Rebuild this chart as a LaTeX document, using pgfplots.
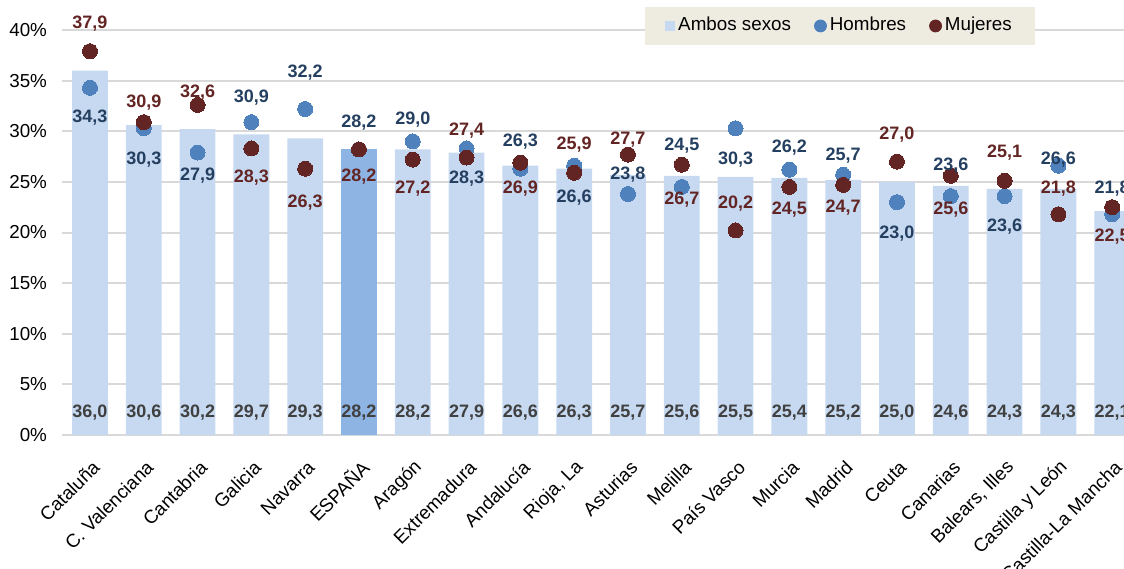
\documentclass[border=0pt]{standalone}
\usepackage{fontspec}
\setmainfont{Liberation Sans}
\usepackage{pgfplots}
\usepackage{pgfplotstable}
\pgfplotsset{compat=1.18}
\definecolor{barblue}{HTML}{C6D9F1}
\definecolor{spainblue}{HTML}{8DB4E2}
\definecolor{hdot}{HTML}{4F81BD}
\definecolor{mdot}{HTML}{632523}
\definecolor{hlab}{HTML}{243F60}
\definecolor{mlab}{HTML}{632523}
\definecolor{blab}{HTML}{404040}
\definecolor{legbg}{HTML}{EEECE1}
\definecolor{gridgray}{HTML}{D9D9D9}
\newcommand{\fs}[1]{\fontsize{#1}{#1}\selectfont}

\pgfplotstableread{
x  a    h    m    ho   mo
0  36.0 34.3 37.9 -30  28
1  30.6 30.3 30.9 -31  20
2  30.2 27.9 32.6 -23  12
3  29.7 30.9 28.3  25 -29
4  29.3 32.2 26.3  36 -34
5  28.2 28.2 28.2  27 -27
6  28.2 29.0 27.2  22 -29
7  27.9 28.3 27.4 -30  27
8  26.6 26.3 26.9  27 -26
9  26.3 26.6 25.9 -32  28
10 25.7 23.8 27.7  19  15
11 25.6 24.5 26.7  41 -35
12 25.5 30.3 20.2 -31  27
13 25.4 26.2 24.5  22 -23
14 25.2 25.7 24.7  19 -23
15 25.0 23.0 27.0 -31  27
16 24.6 23.6 25.6  30 -34
17 24.3 23.6 25.1 -31  28
18 24.3 26.6 21.8   6  26
19 22.1 21.8 22.5  26 -29
}\datatable

\begin{document}
\begin{tikzpicture}
\useasboundingbox (-31pt,-66.5pt) rectangle (531pt,217.5pt);
\begin{axis}[
  at={(0pt,0pt)}, anchor=south west,
  scale only axis, width=531pt, height=202.5pt,
  xmin=-0.52, xmax=19.22, ymin=0, ymax=40,
  clip=false,
  axis line style={draw=none},
  major tick length=0pt,
  ytick={0,5,...,40},
  yticklabel={\pgfmathprintnumber{\tick}\%},
  yticklabel style={font=\fs{9.4}, xshift=-4pt},
  ymajorgrids, grid style={draw=gridgray, line width=1pt},
  xtick={0,...,19},
  xticklabels={Cataluña, C. Valenciana, Cantabria, Galicia, Navarra, ESPAÑA, Aragón, Extremadura, Andalucía, {Rioja, La}, Asturias, Melilla, País Vasco, Murcia, Madrid, Ceuta, Canarias, {Balears, Illes}, Castilla y León, Castilla-La Mancha},
  xticklabel style={font=\fs{9.4}, rotate=45, anchor=east, inner sep=1pt, yshift=-12.5pt, xshift=-7pt},
  /pgf/number format/assume math mode=true,
  legend style={at={(0.7326,1.01)}, anchor=center, legend columns=3, fill=legbg, draw=none,
    font=\fs{9.4}, inner xsep=10pt, inner ysep=3pt,
    nodes={inner xsep=1.5pt, text height=6.8pt, text depth=1.9pt},
    /tikz/every even column/.append style={column sep=10pt}},
  legend cell align=left,
]
\addplot[ybar, bar shift=0pt, bar width=17.9pt, fill=barblue, draw=none,
  legend image code/.code={\fill[barblue] (0pt,-2.5pt) rectangle (5pt,2.5pt);}]
  table[x=x, y=a] {\datatable};
\addlegendentry{Ambos sexos}
\addplot[ybar, bar shift=0pt, bar width=17.9pt, fill=spainblue, draw=none, forget plot]
  coordinates {(5,28.2)};
\addplot[only marks, color=hdot, mark=*, mark size=3.75pt, mark options={solid, fill=hdot, draw=hdot, line width=0pt},
  legend image code/.code={\fill[hdot] (3pt,0pt) circle (3pt);}]
  table[x=x, y=h] {\datatable};
\addlegendentry{Hombres}
\addplot[only marks, color=mdot, mark=*, mark size=3.75pt, mark options={solid, fill=mdot, draw=mdot, line width=0pt},
  legend image code/.code={\fill[mdot] (3pt,0pt) circle (3pt);}]
  table[x=x, y=m] {\datatable};
\addlegendentry{Mujeres}
% labels
\addplot[only marks, mark=none, draw=none, forget plot,
  visualization depends on={\thisrow{ho} \as \hoff},
  nodes near coords={\pgfmathprintnumber[fixed, fixed zerofill, precision=1, use comma]{\pgfplotspointmeta}},
  every node near coord/.append style={anchor=center, yshift=\hoff*0.5pt, font=\fs{9}\bfseries, text=hlab, inner sep=0pt}]
  table[x=x, y=h, meta=h] {\datatable};
\addplot[only marks, mark=none, draw=none, forget plot,
  visualization depends on={\thisrow{mo} \as \moff},
  nodes near coords={\pgfmathprintnumber[fixed, fixed zerofill, precision=1, use comma]{\pgfplotspointmeta}},
  every node near coord/.append style={anchor=center, yshift=\moff*0.5pt, font=\fs{9}\bfseries, text=mlab, inner sep=0pt}]
  table[x=x, y=m, meta=m] {\datatable};
\addplot[only marks, mark=none, draw=none, forget plot,
  point meta=explicit,
  nodes near coords={\pgfmathprintnumber[fixed, fixed zerofill, precision=1, use comma]{\pgfplotspointmeta}},
  every node near coord/.append style={anchor=center, font=\fs{9}\bfseries, text=blab, inner sep=0pt}]
  table[x=x, y expr=2.2, meta=a] {\datatable};
\end{axis}
\end{tikzpicture}
\end{document}
